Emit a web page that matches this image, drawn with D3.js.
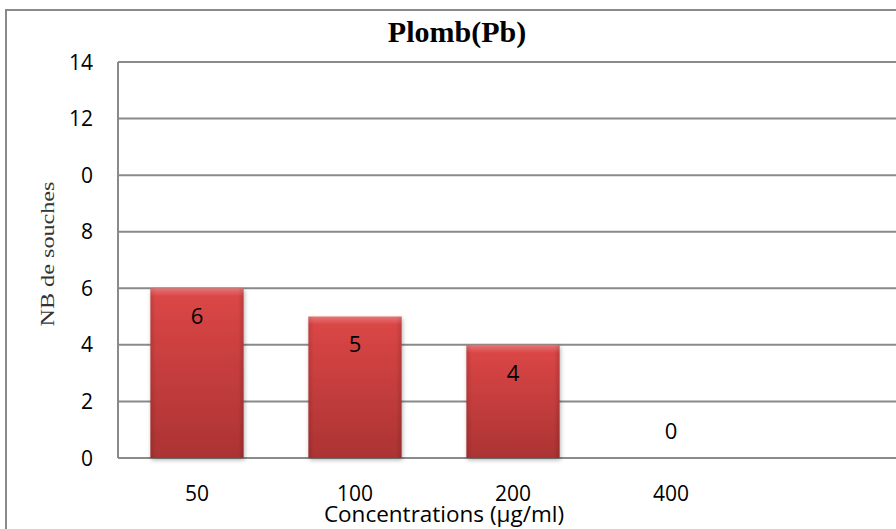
<!DOCTYPE html>
<html>
<head>
<meta charset="utf-8">
<script src="https://cdn.jsdelivr.net/npm/d3@7/dist/d3.min.js"></script>
<style>
  html, body { margin: 0; padding: 0; background: #fff; }
  svg { display: block; }
</style>
</head>
<body>
<svg id="chart" width="896" height="529"></svg>
<script>
// ---- data ----
const categories = ["50", "100", "200", "400"];
const values = [6, 5, 4, 0];
const yTicks = [0, 2, 4, 6, 8, 10, 12, 14];
const title = "Plomb(Pb)";
const xTitle = "Concentrations (µg/ml)";
const yTitle = "NB de  souches";

// ---- layout ----
const W = 896, H = 529;
const plotLeft = 118, plotTop = 62, plotBottom = 458, plotRight = 910;
const step = 158;

const svg = d3.select("#chart");
const sans = "'Open Sans', 'Liberation Sans', sans-serif";
const serif = "'Liberation Serif', 'DejaVu Serif', serif";

const y = d3.scaleLinear().domain([0, 14]).range([plotBottom, plotTop]);
const x = d3.scaleBand().domain(categories)
  .range([plotLeft, plotLeft + step * categories.length])
  .paddingInner(0.41).paddingOuter(0.205);

// defs
const defs = svg.append("defs");
const gV = defs.append("linearGradient").attr("id", "barV").attr("x1", 0).attr("y1", 0).attr("x2", 0).attr("y2", 1);
gV.append("stop").attr("offset", "0%").attr("stop-color", "#dd4747");
gV.append("stop").attr("offset", "100%").attr("stop-color", "#ac3333");
const gH = defs.append("linearGradient").attr("id", "barH").attr("x1", 0).attr("y1", 0).attr("x2", 1).attr("y2", 0);
gH.append("stop").attr("offset", "0%").attr("stop-color", "#000").attr("stop-opacity", 0.12);
gH.append("stop").attr("offset", "6%").attr("stop-color", "#000").attr("stop-opacity", 0);
gH.append("stop").attr("offset", "94%").attr("stop-color", "#000").attr("stop-opacity", 0);
gH.append("stop").attr("offset", "100%").attr("stop-color", "#000").attr("stop-opacity", 0.14);
const gT = defs.append("linearGradient").attr("id", "barT").attr("x1", 0).attr("y1", 0).attr("x2", 0).attr("y2", 1);
gT.append("stop").attr("offset", "0%").attr("stop-color", "#fff").attr("stop-opacity", 0.25);
gT.append("stop").attr("offset", "100%").attr("stop-color", "#fff").attr("stop-opacity", 0);
const f = defs.append("filter").attr("id", "shadow").attr("x", "-20%").attr("y", "-20%").attr("width", "140%").attr("height", "140%");
f.append("feDropShadow").attr("dx", 1).attr("dy", 2).attr("stdDeviation", 2)
  .attr("flood-color", "#000").attr("flood-opacity", 0.3);

// background
svg.append("rect").attr("width", W).attr("height", H).attr("fill", "#fff");

// outer chart border
svg.append("rect").attr("x", 6).attr("y", 10).attr("width", 920).attr("height", 560)
  .attr("fill", "none").attr("stroke", "#8a8a8a").attr("stroke-width", 2);

// title
svg.append("text").attr("x", 457).attr("y", 42).attr("text-anchor", "middle")
  .attr("font-family", serif).attr("font-weight", "bold").attr("font-size", 30)
  .attr("fill", "#000").text(title);

// gridlines
svg.append("g").selectAll("line").data(yTicks).join("line")
  .attr("x1", plotLeft).attr("x2", plotRight)
  .attr("y1", d => y(d)).attr("y2", d => y(d))
  .attr("stroke", "#8a8a8a").attr("stroke-width", 2);

// y axis line
svg.append("line").attr("x1", plotLeft).attr("x2", plotLeft)
  .attr("y1", y(14)).attr("y2", y(0))
  .attr("stroke", "#8a8a8a").attr("stroke-width", 2);

// y tick labels
svg.append("g").selectAll("text").data(yTicks).join("text")
  .attr("x", 93).attr("y", d => y(d)).attr("dy", "0.36em")
  .attr("text-anchor", "end").attr("font-family", sans).attr("font-size", 21)
  .attr("fill", "#000").text(d => d);

// y axis title (white box overlapping the tick labels, as in the reference)
const yt = svg.append("g");
yt.append("rect").attr("x", 30).attr("y", 150).attr("width", 49).attr("height", 190).attr("fill", "#fff");
yt.append("text").attr("transform", "translate(54,254) rotate(-90)")
  .attr("text-anchor", "middle").attr("font-family", serif).attr("font-size", 19)
  .attr("fill", "#333").attr("textLength", 145).attr("lengthAdjust", "spacingAndGlyphs")
  .text(yTitle);

// bars
const bars = svg.append("g").selectAll("g").data(values.map((v, i) => ({ c: categories[i], v })))
  .join("g");
bars.filter(d => d.v > 0).append("rect")
  .attr("x", d => x(d.c)).attr("y", d => y(d.v))
  .attr("width", x.bandwidth()).attr("height", d => y(0) - y(d.v))
  .attr("fill", "url(#barV)").attr("filter", "url(#shadow)");
bars.filter(d => d.v > 0).append("rect")
  .attr("x", d => x(d.c)).attr("y", d => y(d.v))
  .attr("width", x.bandwidth()).attr("height", d => y(0) - y(d.v))
  .attr("fill", "url(#barH)");
bars.filter(d => d.v > 0).append("rect")
  .attr("x", d => x(d.c)).attr("y", d => y(d.v))
  .attr("width", x.bandwidth()).attr("height", 8)
  .attr("fill", "url(#barT)");

// value labels
bars.append("text")
  .attr("x", d => x(d.c) + x.bandwidth() / 2)
  .attr("y", d => d.v > 0 ? y(d.v) + 28 : y(d.v) - 27)
  .attr("dy", "0.36em").attr("text-anchor", "middle")
  .attr("font-family", sans).attr("font-size", 22).attr("fill", "#000")
  .text(d => d.v);

// x tick labels
svg.append("g").selectAll("text").data(categories).join("text")
  .attr("x", d => x(d) + x.bandwidth() / 2).attr("y", 501)
  .attr("text-anchor", "middle").attr("font-family", sans).attr("font-size", 21)
  .attr("fill", "#000").text(d => d);

// x axis title
svg.append("text").attr("x", 444).attr("y", 522).attr("text-anchor", "middle")
  .attr("font-family", sans).attr("font-size", 22.5).attr("fill", "#000")
  .text(xTitle);
</script>
</body>
</html>
